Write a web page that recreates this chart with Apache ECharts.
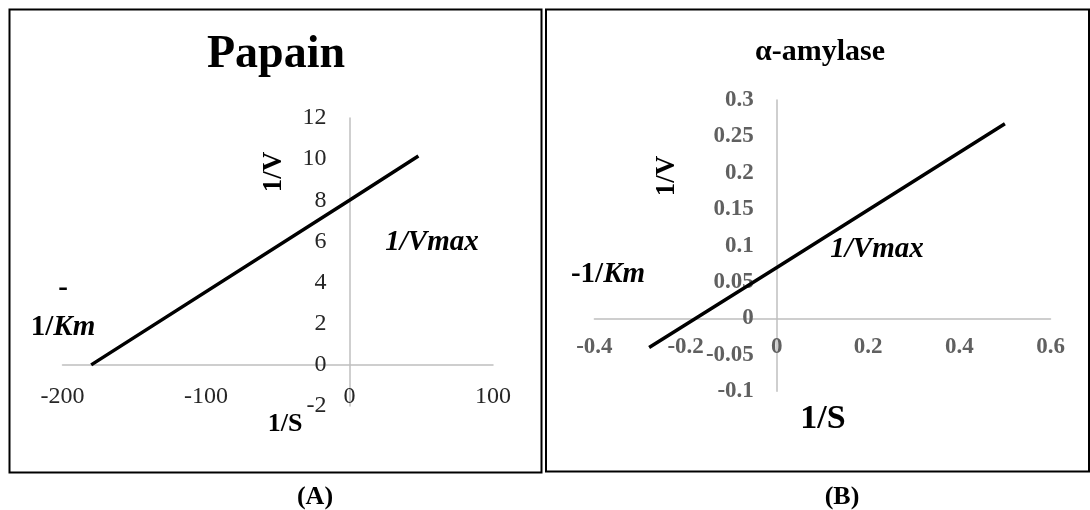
<!DOCTYPE html>
<html>
<head>
<meta charset="utf-8">
<title>Lineweaver-Burk plots</title>
<script src="https://cdn.jsdelivr.net/npm/echarts@6/dist/echarts.min.js"></script>
<style>
  html, body { margin: 0; padding: 0; background: #fff; }
  #chart { width: 1090px; height: 510px; }
</style>
</head>
<body>
<div id="chart"></div>
<script>
// Double-reciprocal (Lineweaver-Burk) data
const papainS = [-180, 0, 48];          // 1/S
const papainV = [0, 8, 10.15];          // 1/V
const amylaseS = [-0.28, 0, 0.5];       // 1/S
const amylaseV = [-0.04, 0.07, 0.2675]; // 1/V

// Axis ticks
const papainXTicks = [-200, -100, 0, 100];
const papainYTicks = [-2, 0, 2, 4, 6, 8, 10, 12];
const amylaseXTicks = [-0.4, -0.2, 0, 0.2, 0.4, 0.6];
const amylaseYTicks = [-0.1, -0.05, 0, 0.05, 0.1, 0.15, 0.2, 0.25, 0.3];

const titles = ['Papain', 'α-amylase'];
const panelTags = ['(A)', '(B)'];

const SERIF = '"Liberation Serif", "Times New Roman", serif';
const AXIS_GRAY = '#bfbfbf';

const grids = [
  { left: 62.5, top: 118, width: 430.5, height: 288 },
  { left: 594.4, top: 100, width: 456.1, height: 291.3 }
];

const first = a => a[0];
const last = a => a[a.length - 1];

// Shift axes so that they cross at the origin, labels included.
function yOffset(g, xt) { return -g.width * (0 - first(xt)) / (last(xt) - first(xt)); }
function xOffset(g, yt) { return -g.height * (0 - first(yt)) / (last(yt) - first(yt)); }

const chart = echarts.init(document.getElementById('chart'), null, { renderer: 'canvas' });

function pairs(xs, ys) { return xs.map((x, i) => [x, ys[i]]); }

function label(x, y, text, size, opts) {
  opts = opts || {};
  return {
    type: 'text', x: x, y: y, rotation: opts.rotation || 0, z: 10,
    style: {
      text: text, fill: '#000', font: (opts.italic ? 'italic ' : '') + 'bold ' + size + 'px ' + SERIF,
      align: 'center', verticalAlign: 'middle', rich: opts.rich
    }
  };
}

function kmRich(size) {
  return {
    a: { font: 'bold ' + size + 'px ' + SERIF, fill: '#000' },
    b: { font: 'italic bold ' + size + 'px ' + SERIF, fill: '#000' }
  };
}

const lineAxis = { show: true, onZero: false, lineStyle: { color: AXIS_GRAY, width: 1.5 } };

const option = {
  backgroundColor: '#fff',
  animation: false,
  grid: grids,
  xAxis: [
    {
      gridIndex: 0, type: 'value', position: 'bottom', offset: xOffset(grids[0], papainYTicks),
      min: first(papainXTicks), max: last(papainXTicks), interval: 100,
      axisLine: lineAxis, axisTick: { show: false }, splitLine: { show: false },
      axisLabel: { margin: 20, color: '#262626', fontFamily: SERIF, fontSize: 24,
        showMinLabel: true, showMaxLabel: true, hideOverlap: false }
    },
    {
      gridIndex: 1, type: 'value', position: 'bottom', offset: xOffset(grids[1], amylaseYTicks),
      min: first(amylaseXTicks), max: last(amylaseXTicks), interval: 0.2,
      axisLine: lineAxis, axisTick: { show: false }, splitLine: { show: false },
      axisLabel: { margin: 17, color: '#606060', fontFamily: SERIF, fontWeight: 'bold', fontSize: 23,
        showMinLabel: true, showMaxLabel: true, hideOverlap: false,
        formatter: v => String(Math.round(v * 100) / 100) }
    }
  ],
  yAxis: [
    {
      gridIndex: 0, type: 'value', position: 'left', offset: yOffset(grids[0], papainXTicks),
      min: first(papainYTicks), max: last(papainYTicks), interval: 2,
      axisLine: lineAxis, axisTick: { show: false }, splitLine: { show: false },
      axisLabel: { margin: 23, color: '#262626', fontFamily: SERIF, fontSize: 24,
        showMinLabel: true, showMaxLabel: true, hideOverlap: false }
    },
    {
      gridIndex: 1, type: 'value', position: 'left', offset: yOffset(grids[1], amylaseXTicks),
      min: first(amylaseYTicks), max: last(amylaseYTicks), interval: 0.05,
      axisLine: lineAxis, axisTick: { show: false }, splitLine: { show: false },
      axisLabel: { margin: 23, color: '#606060', fontFamily: SERIF, fontWeight: 'bold', fontSize: 23,
        showMinLabel: true, showMaxLabel: true, hideOverlap: false,
        formatter: v => String(Math.round(v * 100) / 100) }
    }
  ],
  series: [
    {
      type: 'line', xAxisIndex: 0, yAxisIndex: 0, data: pairs(papainS, papainV),
      showSymbol: false, lineStyle: { color: '#000', width: 3.5 }, z: 5
    },
    {
      type: 'line', xAxisIndex: 1, yAxisIndex: 1, data: pairs(amylaseS, amylaseV),
      showSymbol: false, lineStyle: { color: '#000', width: 3.5 }, z: 5
    }
  ],
  graphic: [
    // panel frames
    { type: 'rect', shape: { x: 9.5, y: 9.5, width: 532, height: 463 },
      style: { fill: 'none', stroke: '#000', lineWidth: 2 }, z: 1 },
    { type: 'rect', shape: { x: 546, y: 9.5, width: 543, height: 462 },
      style: { fill: 'none', stroke: '#000', lineWidth: 2 }, z: 1 },

    // panel A texts
    label(276, 55, titles[0], 46),
    label(274, 172, '1/V', 27, { rotation: Math.PI / 2 }),
    label(432, 243, '1/Vmax', 29, { italic: true }),
    label(63, 289, '-', 29),
    label(63, 328, '{a|1/}{b|Km}', 29, { rich: kmRich(29) }),
    label(285, 424, '1/S', 26),
    label(315, 497, panelTags[0], 26),

    // panel B texts
    label(820, 52, titles[1], 30),
    label(667, 176, '1/V', 27, { rotation: Math.PI / 2 }),
    label(608, 275, '{a|-1/}{b|Km}', 29, { rich: kmRich(29) }),
    label(877, 250, '1/Vmax', 29, { italic: true }),
    label(823, 419, '1/S', 34),
    label(842, 497, panelTags[1], 26)
  ]
};

chart.setOption(option);
</script>
</body>
</html>
